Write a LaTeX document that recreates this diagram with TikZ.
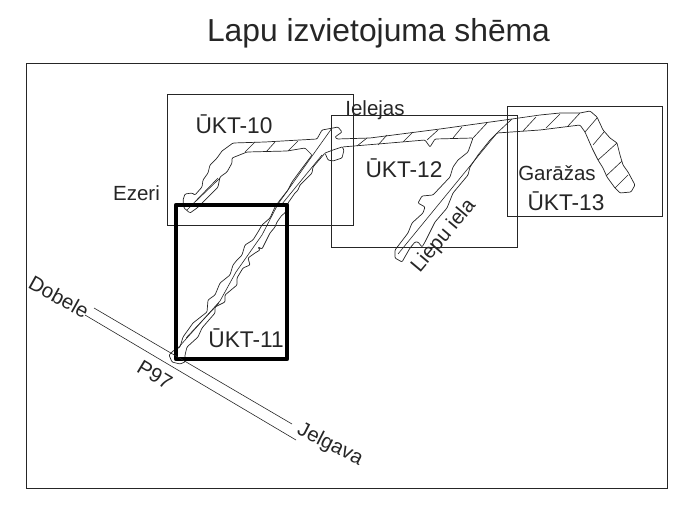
\documentclass[tikz,border=0pt]{standalone}
\usepackage{fontspec}
\setmainfont{Liberation Sans}
\tikzset{
  frameline/.style={draw=black!85, line width=0.8pt},
  roadline/.style={draw=black!85, line width=0.7pt, rounded corners=1pt},
  hatchline/.style={draw=black!85, line width=0.6pt},
  sheetlabel/.style={font=\fontsize{22.7}{26}\selectfont, text=black!85, inner sep=0pt},
  placelabel/.style={font=\fontsize{20.5}{24}\selectfont, text=black!85, inner sep=0pt}
}
\begin{document}
\begin{tikzpicture}[x=1pt,y=-1pt]
\useasboundingbox (0,0) rectangle (698,511);

% Title
\node[font=\fontsize{31.8}{36}\selectfont, text=black!85, inner sep=0pt] (title) at (378.5,33) {Lapu izvietojuma shēma};

% Outer frame
\draw[frameline] (26,63) rectangle (667,488);

% Sheet boxes
\draw[frameline] (167,94) rectangle (353,225);
\draw[frameline] (331,115) rectangle (517,247);
\draw[frameline] (507,106) rectangle (662,216);

% Road outline
\draw[roadline] (184,208) -- (183,200) -- (185,194) -- (192,193) -- (195,195) -- (202,187) -- (203,180) -- (208,173) -- (210,165) -- (217,158) -- (222,151) -- (233,143)
  -- (265,142) -- (317,139) -- (322,130) -- (333,128) -- (338,127) -- (342,132) -- (335,137) -- (337,139)
  -- (370,138) -- (440,129) -- (512,119) -- (540,115) -- (560,113) -- (580,113) -- (590,111) -- (597,117) -- (603,130) -- (610,138) -- (617,143)
  -- (620,155) -- (623,165) -- (628,172) -- (635,185) -- (631,192) -- (620,193) -- (615,188) -- (607,177) -- (603,168) -- (598,160) -- (592,148)
  -- (585,132) -- (580,125) -- (540,130) -- (497,133) -- (490,140) -- (478,155) -- (470,167) -- (468,175) -- (453,193) -- (447,208) -- (435,222)
  -- (430,232) -- (425,242) -- (422,247) -- (418,242) -- (415,242) -- (410,248) -- (402,262) -- (395,258) -- (395,250) -- (408,233) -- (412,223)
  -- (423,213) -- (425,207) -- (418,203) -- (422,196) -- (433,195) -- (450,177) -- (453,167) -- (458,160) -- (468,152) -- (473,138)
  -- (435,139) -- (430,147) -- (425,140) -- (390,143) -- (342,147) -- (344,150) -- (342,158) -- (333,161) -- (328,160) -- (325,153)
  -- (313,167) -- (312,173) -- (300,185) -- (298,190) -- (295,193) -- (288,203) -- (285,213) -- (282,215) -- (277,222) -- (275,227) -- (270,233)
  -- (265,243) -- (262,249) -- (258,247) -- (260,250) -- (255,253) -- (248,258) -- (250,265) -- (243,268) -- (237,278) -- (237,285) -- (225,295)
  -- (225,302) -- (215,307) -- (215,313) -- (202,328) -- (198,337) -- (187,347) -- (185,355) -- (185,362) -- (180,364) -- (172,362) -- (169,355)
  -- (173,351) -- (180,347) -- (183,337) -- (193,323) -- (207,312) -- (208,300) -- (215,295) -- (220,283) -- (230,275) -- (233,265) -- (237,260)
  -- (242,255) -- (245,245) -- (253,240) -- (258,232) -- (262,225) -- (270,218) -- (275,207) -- (280,200) -- (288,190) -- (292,182) -- (303,167)
  -- (312,155) -- (305,148) -- (287,151) -- (247,152) -- (232,158) -- (232,163) -- (227,172) -- (220,177) -- (218,187) -- (210,195) -- (197,208)
  -- (190,213) -- cycle;
\draw[roadline] (342,147) -- (333,150) -- (325,153);

% Centre lines
\draw[hatchline] (332,128) -- (278,204) -- (262,235) -- (236,272) -- (220,301) -- (178,348);
\draw[hatchline] (186,338) -- (219,303);
\draw[hatchline] (282,204) -- (322,155);
\draw[hatchline] (187,210) -- (218,178);
\draw[hatchline] (195,202) -- (220,178);
\draw[hatchline] (512,119) -- (497,133) -- (398,254);

% Cross hatching
\foreach \xa/\ya/\xb/\yb in {255/142/245/152, 275/142/266/152, 298/141/288/151,
  367/138/357/146, 387/135/378/145, 413/132/403/142, 438/130/427/140, 462/127/453/138, 487/123/473/138,
  536/117/523/131, 560/114/546/128, 580/113/568/126,
  597/118/585/132, 604/132/593/145, 617/143/598/160, 622/161/606/176, 628/175/615/188}
  \draw[hatchline] (\xa,\ya) -- (\xb,\yb);

% Highlighted sheet
\draw[line width=4.5pt, line join=round] (176,205) rectangle (287,359);

% Highway
\draw[hatchline] (94,308) -- (292,424);
\draw[hatchline] (85,315) -- (296,440);

% Sheet labels
\node[sheetlabel] (ukt10) at (234,124) {ŪKT-10};
\node[sheetlabel] (ukt11) at (246,338) {ŪKT-11};
\node[sheetlabel] (ukt12) at (404,168) {ŪKT-12};
\node[sheetlabel] (ukt13) at (566,201) {ŪKT-13};

% Place labels
\node[placelabel] (ezeri) at (136.5,193) {Ezeri};
\node[placelabel] (ielejas) at (375,110) {Ielejas};
\node[placelabel] (garazas) at (557,173) {Garāžas};
\node[placelabel, rotate=50] (liepu) at (444,236) {Liepu iela};
\node[placelabel, rotate=-29] (dobele) at (59,297) {Dobele};
\node[placelabel, rotate=-31] (pninetyseven) at (155,375) {P97};
\node[placelabel, rotate=-27] (jelgava) at (330,445) {Jelgava};

\end{tikzpicture}
\end{document}
